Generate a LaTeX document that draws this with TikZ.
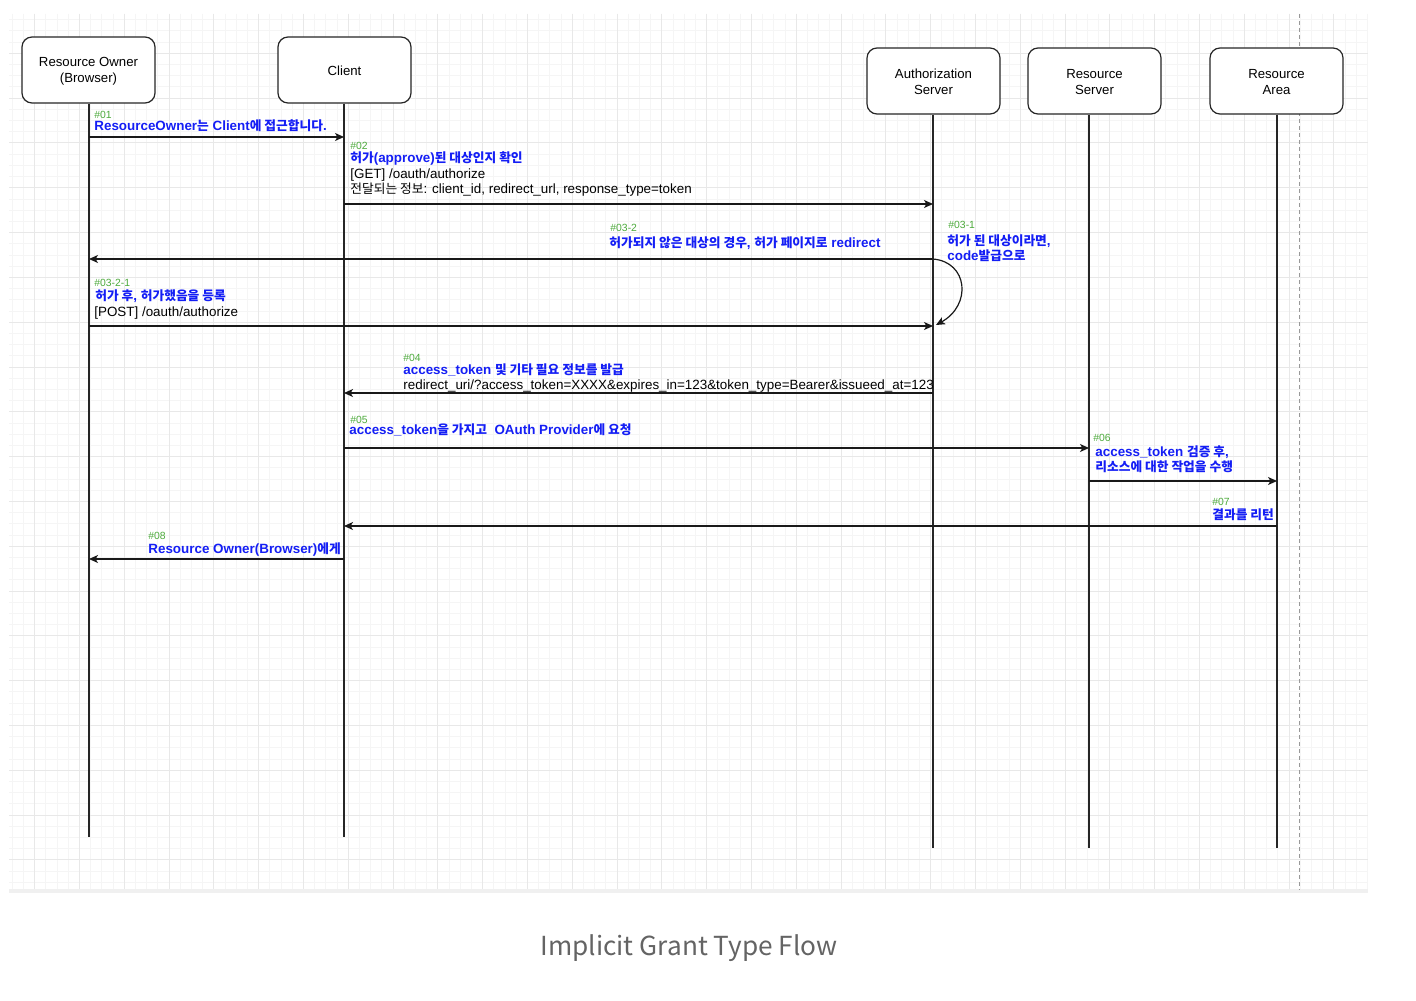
\documentclass[tikz,border=0pt]{standalone}
\usepackage{fontspec}
\setmainfont{Liberation Sans}
\newfontfamily\krf[Scale=0.95]{Noto Sans CJK KR}
\newfontfamily\capf{Noto Sans CJK KR}
\usetikzlibrary{arrows.meta}
\newcommand\kr[1]{{\krf #1}}
\definecolor{lblblue}{RGB}{20,30,245}
\definecolor{numgreen}{RGB}{77,170,60}
\definecolor{gridminor}{RGB}{245,245,245}
\definecolor{gridmajor}{RGB}{232,232,232}
\definecolor{capgrey}{RGB}{100,100,100}
\begin{document}
\begin{tikzpicture}[x=0.5pt,y=-0.5pt,
 actor/.style={draw=black!85, line width=0.6pt, fill=white, rounded corners=5pt, minimum width=66.5pt, minimum height=33pt},
 actortext/.style={align=center, font=\fontsize{6.6}{8}\selectfont, inner sep=0pt},
 life/.style={draw=black!85, line width=0.6pt},
 msg/.style={draw=black!90, line width=0.6pt, -{Stealth[length=4.5pt,width=4pt,inset=1.2pt]}},
 num/.style={anchor=base west, inner sep=0pt, text=numgreen, font=\fontsize{5.2}{6}\selectfont},
 lbl/.style={anchor=base west, inner sep=0pt, text=lblblue, font=\fontsize{6.7}{7.5}\selectfont\bfseries},
 txt/.style={anchor=base west, inner sep=0pt, text=black, font=\fontsize{6.7}{7.5}\selectfont},
]
\fill[white] (0,0) rectangle (1416,1000);
\useasboundingbox (0,0) rectangle (1416,1000);
% grid
\begin{scope}
\clip (9,14) rectangle (1368,890);
\foreach \m in {-114,...,7} \draw[gridminor, line width=0.5pt] ({1289+11.2*\m},14) -- ({1289+11.2*\m},890);
\foreach \m in {-71,...,6} \draw[gridminor, line width=0.5pt] (9,{815+11.2*\m}) -- (1368,{815+11.2*\m});
\foreach \m in {-28,...,1} \draw[gridmajor, line width=0.5pt] ({1289+44.8*\m},14) -- ({1289+44.8*\m},890);
\foreach \m in {-17,...,1} \draw[gridmajor, line width=0.5pt] (9,{815+44.8*\m}) -- (1368,{815+44.8*\m});
\end{scope}
\fill[black!6] (9,889) rectangle (1368,893);
\draw[black!40, line width=0.5pt, dash pattern=on 2pt off 1.5pt] (1299,14) -- (1299,890);

% actors
\node[actor] (ro) at (88.5,70) {};
\node[actor] (cl) at (344.5,70) {};
\node[actor] (as) at (933.5,81) {};
\node[actor] (rs) at (1094.5,81) {};
\node[actor] (ra) at (1276.5,81) {};
\node[actortext] (rot) at (88.5,71.5) {Resource Owner\\(Browser)};
\node[actortext] (clt) at (344.5,71) {Client};
\node[actortext] (ast) at (933.5,82) {Authorization\\Server};
\node[actortext] (rst) at (1094.5,82) {Resource\\Server};
\node[actortext] (rat) at (1276.5,82) {Resource\\Area};

% lifeline x positions
\coordinate (Lro) at (89,0);
\coordinate (Lcl) at (344,0);
\coordinate (Las) at (933,0);
\coordinate (Lrs) at (1089,0);
\coordinate (Lra) at (1277,0);
\coordinate (yb1) at (0,837);
\coordinate (yb2) at (0,848);

\draw[life] (Lro |- ro.south) -- (Lro |- yb1);
\draw[life] (Lcl |- cl.south) -- (Lcl |- yb1);
\draw[life] (Las |- as.south) -- (Las |- yb2);
\draw[life] (Lrs |- rs.south) -- (Lrs |- yb2);
\draw[life] (Lra |- ra.south) -- (Lra |- yb2);

% message rows
\coordinate (y1) at (0,137);
\coordinate (y2) at (0,204);
\coordinate (y3) at (0,259);
\coordinate (y4) at (0,326);
\coordinate (y5) at (0,393);
\coordinate (y6) at (0,448);
\coordinate (y7) at (0,481);
\coordinate (y8) at (0,526);
\coordinate (y9) at (0,559);

\draw[msg] (Lro |- y1) -- (Lcl |- y1);
\draw[msg] (Lcl |- y2) -- (Las |- y2);
\draw[msg] (Las |- y3) -- (Lro |- y3);
\coordinate (selfend) at (936,325);
\draw[msg] (Las |- y3) .. controls (968,262) and (972,305) .. (selfend);
\draw[msg] (Lro |- y4) -- (Las |- y4);
\draw[msg] (Las |- y5) -- (Lcl |- y5);
\draw[msg] (Lcl |- y6) -- (Lrs |- y6);
\draw[msg] (Lrs |- y7) -- (Lra |- y7);
\draw[msg] (Lra |- y8) -- (Lcl |- y8);
\draw[msg] (Lcl |- y9) -- (Lro |- y9);

% labels
\node[num] (n1) at (94,118.5) {\#01};
\node[lbl] (t1) at (94,130.5) {ResourceOwner\kr{는} Client\kr{에 접근합니다}.};

\node[num] (n2) at (350,149.5) {\#02};
\node[lbl] (t2a) at (350,162.5) {\kr{허가}(approve)\kr{된 대상인지 확인}};
\node[txt] (t2b) at (350,178.5) {[GET] /oauth/authorize};
\node[txt] (t2c) at (350,193.5) {\kr{전달되는 정보}: client\_id, redirect\_url, response\_type=token};

\node[num] (n32) at (610,231.5) {\#03-2};
\node[lbl] (t32) at (609,247.5) {\kr{허가되지 않은 대상의 경우}, \kr{허가 페이지로} redirect};

\node[num] (n31) at (948,228.5) {\#03-1};
\node[lbl] (t31a) at (947,245.5) {\kr{허가 된 대상이라면},};
\node[lbl] (t31b) at (947,260.5) {code\kr{발급으로}};

\node[num] (n321) at (94,286.5) {\#03-2-1};
\node[lbl] (t321a) at (95,300.5) {\kr{허가 후}, \kr{허가했음을 등록}};
\node[txt] (t321b) at (94,316.5) {[POST] /oauth/authorize};

\node[num] (n4) at (403,361.5) {\#04};
\node[lbl] (t4a) at (403,374.5) {access\_token \kr{및 기타 필요 정보를 발급}};
\node[txt] (t4b) at (403,389.5) {redirect\_uri/?access\_token=XXXX\&expires\_in=123\&token\_type=Bearer\&issueed\_at=123};

\node[num] (n5) at (350,423.5) {\#05};
\node[lbl] (t5) at (349,434.5) {access\_token\kr{을 가지고}\ \ OAuth Provider\kr{에 요청}};

\node[num] (n6) at (1093,441.5) {\#06};
\node[lbl] (t6a) at (1095,456.5) {access\_token \kr{검증 후},};
\node[lbl] (t6b) at (1095,471.5) {\kr{리소스에 대한 작업을 수행}};

\node[num] (n7) at (1212,505.5) {\#07};
\node[lbl] (t7) at (1212,519.5) {\kr{결과를 리턴}};

\node[num] (n8) at (148,539.5) {\#08};
\node[lbl] (t8) at (148,553.5) {Resource Owner(Browser)\kr{에게}};

% caption
\node[font=\capf\fontsize{13.1}{15}\selectfont, text=capgrey, anchor=base, inner sep=0pt] (cap) at (689,955) {Implicit Grant Type Flow};
\end{tikzpicture}
\end{document}
